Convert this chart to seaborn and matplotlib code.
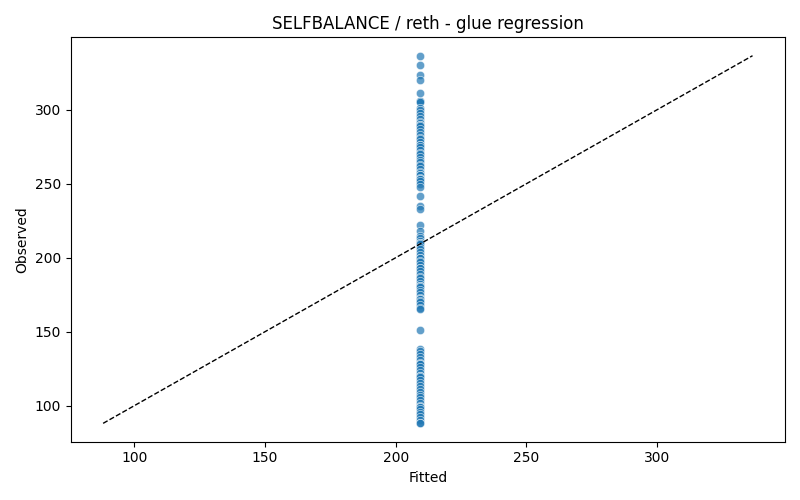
import numpy as np
import pandas as pd
import matplotlib
matplotlib.use("Agg")
import matplotlib.pyplot as plt
import seaborn as sns

# every observation got the same fitted value
fitted_value = 209.2

observed = [
    336.6, 330.5, 323.7, 320.3, 311.5, 306, 306, 305, 301, 300, 298, 296, 294,
    292, 291, 290, 290, 289, 287, 285, 283, 281, 280, 278, 276, 276, 275, 273,
    271, 270, 268, 266, 265, 263, 262, 260, 258, 257, 256, 256, 254, 253, 253,
    252, 250, 248, 242, 235, 233, 222, 218, 215, 213, 211, 210, 210, 209, 207,
    206, 204, 202, 200, 200, 198, 197, 195, 193, 193, 191, 189, 187, 186, 184,
    182, 181, 181, 180, 178, 177, 175, 173, 172, 172, 171, 170, 168, 166, 165,
    151, 138, 137, 135, 133, 131, 129, 128, 128, 126, 124, 122, 120, 120, 119,
    117, 115, 113, 111, 109, 107, 106, 104, 102, 100, 99, 99, 98, 96, 94, 92,
    90, 88, 88,
]

df = pd.DataFrame({"Observed": observed})
df["Fitted"] = fitted_value

fig, ax = plt.subplots(figsize=(8, 5), dpi=100)
sns.scatterplot(data=df, x="Fitted", y="Observed", alpha=0.7, ax=ax)

lo, hi = min(observed), max(observed)
ax.plot([lo, hi], [lo, hi], "k--", linewidth=1)

ax.set_title("SELFBALANCE / reth - glue regression")
ax.set_xlabel("Fitted")
ax.set_ylabel("Observed")

plt.tight_layout()
plt.savefig("out.png")
